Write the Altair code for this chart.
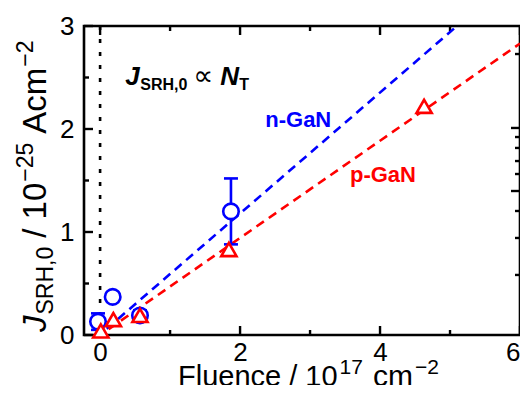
import altair as alt
import pandas as pd

# ---------------- data ----------------
n_x = [-0.03, 0.18, 0.57, 1.87]
n_y = [0.13, 0.37, 0.19, 1.20]
n_err = [0.08, 0.04, 0.05, 0.32]

p_x = [0.01, 0.19, 0.57, 1.84, 4.63]
p_y = [0.04, 0.15, 0.19, 0.83, 2.22]

n_fit_x = [-0.23, 5.10]
n_fit_y = [-0.13, 3.00]
p_fit_x = [-0.23, 6.00]
p_fit_y = [-0.11, 2.83]

x_major = [0, 2, 4, 6]
x_minor = [1, 3, 5]
y_major = [0, 1, 2, 3]
y_minor = [0.5, 1.5, 2.5]
right_major = [2.010, 1.398]
right_minor = [2.728, 1.922, 1.816, 1.689, 1.563, 1.204, 0.942, 0.583]

BLUE = "#0000ff"
RED = "#ff0000"
FONT = "Liberation Sans"

W, H = 436, 309
LONG, SHORT, TW = 9, 5, 2.4

df_n = pd.DataFrame({"x": n_x, "y": n_y, "lo": [a - b for a, b in zip(n_y, n_err)],
                     "hi": [a + b for a, b in zip(n_y, n_err)]})
df_p = pd.DataFrame({"x": p_x, "y": p_y})
df_nfit = pd.DataFrame({"x": n_fit_x, "y": n_fit_y})
df_pfit = pd.DataFrame({"x": p_fit_x, "y": p_fit_y})
df_zero = pd.DataFrame({"x": [0.0]})

xs = alt.Scale(domain=[-0.23, 6], nice=False, zero=False)
ys = alt.Scale(domain=[0, 3], nice=False, zero=False)

label_axis = dict(domain=False, ticks=False, grid=False, title=None,
                  labelFont=FONT, labelFontSize=26, labelColor="black", labelOverlap=False)
x_bottom = alt.Axis(orient="bottom", values=x_major, format="d", labelPadding=4, labelFlush=True, **label_axis)
y_left = alt.Axis(orient="left", values=y_major, format="d", labelPadding=10, labelFlush=False, **label_axis)

layers = []

# invisible carrier of the labelled axes
layers.append(alt.Chart(df_p).mark_point(shape="triangle-up", size=0, opacity=0)
              .encode(x=alt.X("x:Q", scale=xs, axis=x_bottom), y=alt.Y("y:Q", scale=ys, axis=y_left)))


# ---- inward tick marks, drawn from the tick value lists through the scales ----
def xticks(vals, length, top=False):
    d = pd.DataFrame({"x": vals})
    y0, y1 = (0, length) if top else (H, H - length)
    return (alt.Chart(d).mark_rule(color="black", strokeWidth=TW)
            .encode(x=alt.X("x:Q", scale=xs, axis=None), y=alt.value(y0), y2=alt.value(y1)))


def yticks(vals, length, right=False):
    d = pd.DataFrame({"y": vals})
    x0, x1 = (W, W - length) if right else (0, length)
    return (alt.Chart(d).mark_rule(color="black", strokeWidth=TW)
            .encode(y=alt.Y("y:Q", scale=ys, axis=None), x=alt.value(x0), x2=alt.value(x1)))


layers += [xticks(x_major, LONG), xticks(x_minor, SHORT),
           xticks(x_major, LONG, top=True), xticks(x_minor, SHORT, top=True),
           yticks(y_major, LONG), yticks(y_minor, SHORT),
           yticks(right_major, LONG, right=True), yticks(right_minor, SHORT, right=True)]

# dotted vertical line at zero fluence
layers.append(alt.Chart(df_zero).mark_rule(color="black", strokeWidth=2.6, strokeDash=[4, 9])
              .encode(x=alt.X("x:Q", scale=xs, axis=None)))

# fits
layers.append(alt.Chart(df_nfit).mark_line(color=BLUE, strokeWidth=2.6, strokeDash=[9, 6], clip=True)
              .encode(x=alt.X("x:Q", scale=xs, axis=None), y=alt.Y("y:Q", scale=ys, axis=None)))
layers.append(alt.Chart(df_pfit).mark_line(color=RED, strokeWidth=2.6, strokeDash=[9, 6], clip=True)
              .encode(x=alt.X("x:Q", scale=xs, axis=None), y=alt.Y("y:Q", scale=ys, axis=None)))

# error bars
layers.append(alt.Chart(df_n).mark_rule(color=BLUE, strokeWidth=2.6)
              .encode(x=alt.X("x:Q", scale=xs, axis=None), y=alt.Y("lo:Q", scale=ys, axis=None), y2="hi:Q"))
for col in ["lo", "hi"]:
    layers.append(alt.Chart(df_n).mark_tick(color=BLUE, orient="horizontal", size=14, thickness=2.6, opacity=1)
                  .encode(x=alt.X("x:Q", scale=xs, axis=None), y=alt.Y(f"{col}:Q", scale=ys, axis=None)))

# markers
layers.append(alt.Chart(df_n).mark_point(shape="circle", size=240, filled=True, fill="white",
                                          stroke=BLUE, strokeWidth=2.6, opacity=1)
              .encode(x=alt.X("x:Q", scale=xs, axis=None), y=alt.Y("y:Q", scale=ys, axis=None)))
layers.append(alt.Chart(df_p).mark_point(shape="triangle-up", size=230, filled=True, fill="white",
                                          stroke=RED, strokeWidth=2.6, opacity=1)
              .encode(x=alt.X("x:Q", scale=xs, axis=None), y=alt.Y("y:Q", scale=ys, axis=None)))


def data_text(s, x, y, color, size, dx=0, dy=0, weight="bold", style="normal", font=FONT):
    return (alt.Chart(pd.DataFrame({"t": [s], "x": [x], "y": [y]}))
            .mark_text(align="left", baseline="alphabetic", font=font, fontSize=size, fontWeight=weight,
                       fontStyle=style, color=color, dx=dx, dy=dy)
            .encode(x=alt.X("x:Q", scale=xs, axis=None), y=alt.Y("y:Q", scale=ys, axis=None), text="t:N"))


layers.append(data_text("n-GaN", 2.36, 2.02, BLUE, 22))
layers.append(data_text("p-GaN", 3.57, 1.49, RED, 22))

# J_SRH,0 ∝ N_T annotation
ax, ay = 0.36, 2.43
layers.append(data_text("J", ax, ay, "black", 26, style="italic"))
layers.append(data_text("SRH,0", ax, ay, "black", 16, dx=15, dy=5))
layers.append(data_text("\u221d", ax, ay, "black", 28, dx=68, weight="normal", font="DejaVu Sans"))
layers.append(data_text("N", ax, ay, "black", 26, dx=95, style="italic"))
layers.append(data_text("T", ax, ay, "black", 16, dx=114, dy=5))

# ---------------- axis titles built from pieces ----------------
AW = {" ": .278, "/": .278, "0": .556, "1": .556, "2": .556, "5": .556, "7": .556,
      "\u2212": .584, "A": .667, "c": .5, "m": .833, "F": .611, "l": .222, "u": .556,
      "e": .556, "n": .556, "J": .5, "S": .667, "R": .722, "H": .722, ",": .278}


def tw(s, fs):
    return sum(AW.get(c, .556) for c in s) * fs


def px_text(s, x, y, size, angle=0, style="normal"):
    return (alt.Chart(pd.DataFrame({"t": [s]}))
            .mark_text(align="left", baseline="alphabetic", font=FONT, fontSize=size, fontStyle=style,
                       color="black", angle=angle)
            .encode(x=alt.value(x), y=alt.value(y), text="t:N"))


# x title: (text, size, raise, gap before)
xt = [("Fluence / 10", 29, 0, 0), ("17", 21, -12, 2), ("cm", 30, 0, 10), ("\u22122", 21, -12, 2)]
cx, by = 94, 360
for s, fs, off, gap in xt:
    cx += gap
    layers.append(px_text(s, cx, by + off, fs))
    cx += tw(s, fs)

# y title (rotated)
YB, YS = 33, 23
yt = [("J", YB, 0, "italic", 0), ("SRH,0", YS, 7, "normal", 1), ("/ 10", YB, 0, "normal", 9),
      ("\u221225", YS, -13, "normal", 1), ("Acm", YB, 0, "normal", 9), ("\u22122", YS, -13, "normal", 1)]
cy, bx = 306, -38
for s, fs, off, st, gap in yt:
    cy -= gap
    layers.append(px_text(s, bx + off, cy, fs, angle=270, style=st))
    cy -= tw(s, fs)

chart = (alt.layer(*layers)
         .resolve_axis(x="independent", y="independent")
         .properties(width=W, height=H,
                     padding={"left": 76, "top": 18, "right": 0, "bottom": 50},
                     autosize=alt.AutoSizeParams(type="none"))
         .configure_view(stroke="black", strokeWidth=2.6))

chart.save("out.html", embed_options={"renderer": "svg", "actions": False})
